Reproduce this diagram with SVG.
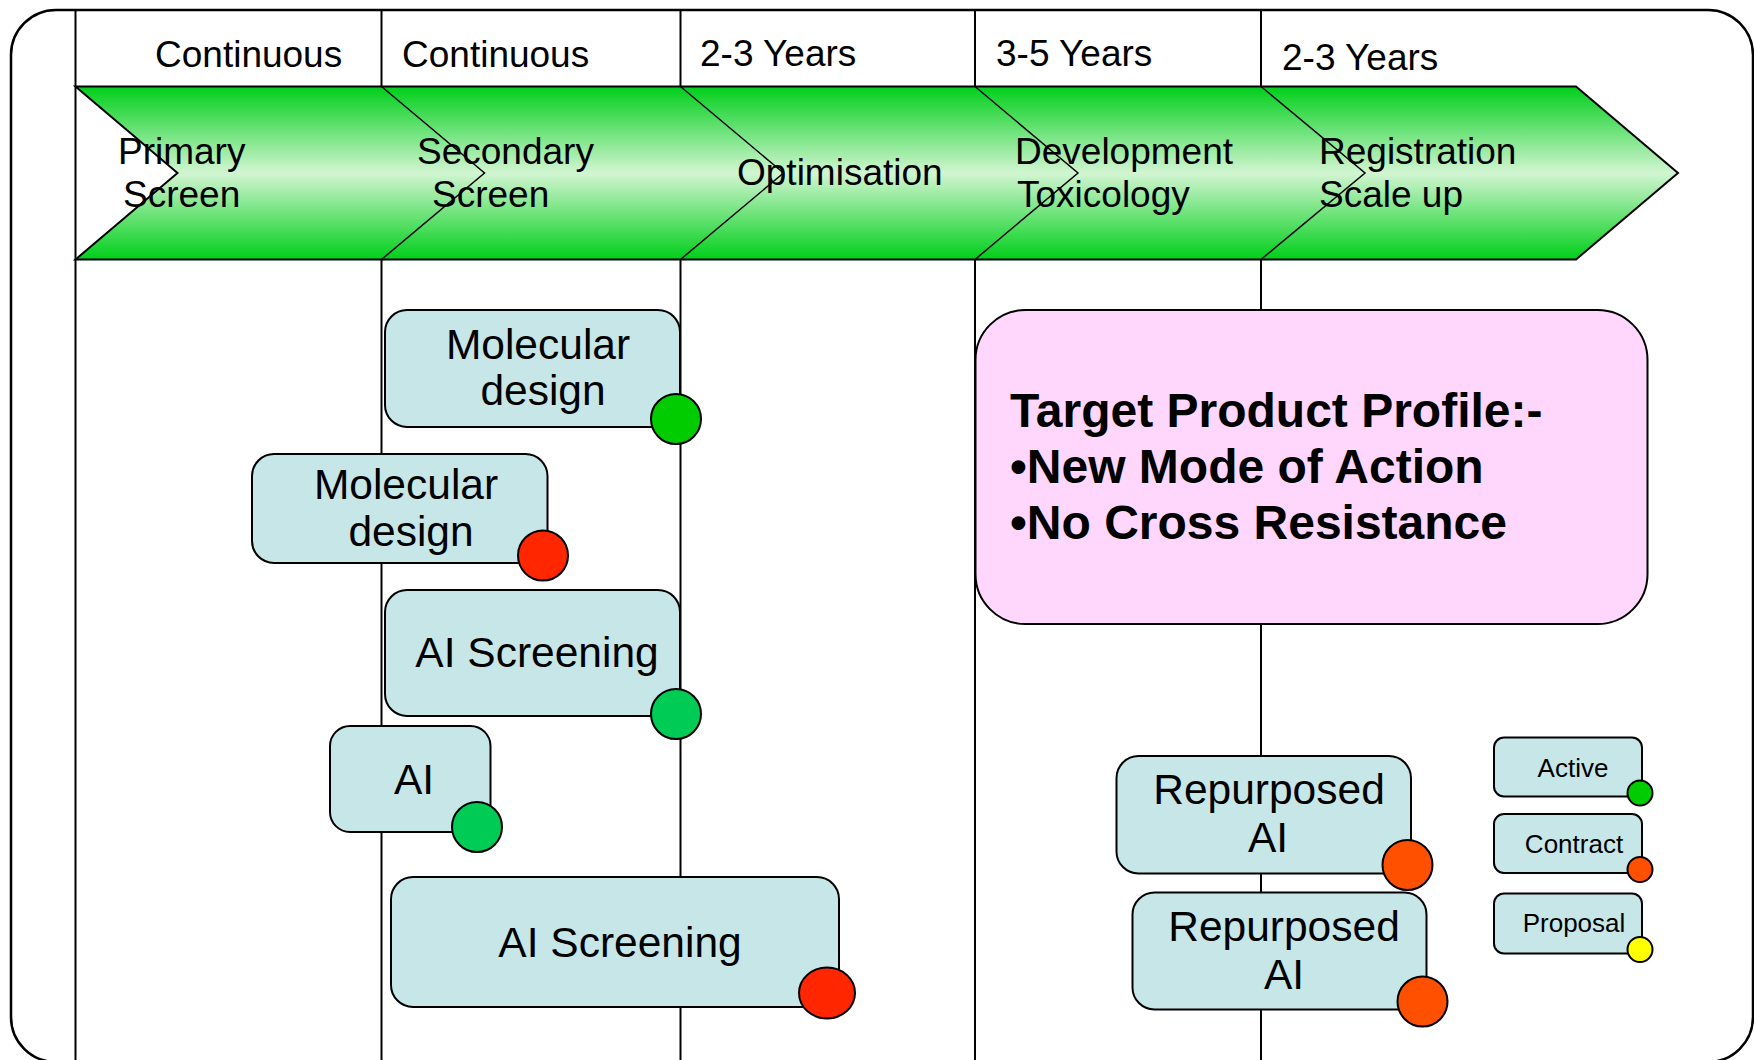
<svg xmlns="http://www.w3.org/2000/svg" width="1754" height="1060" viewBox="0 0 1754 1060">
<defs>
<linearGradient id="band" x1="0" y1="0" x2="0" y2="1">
<stop offset="0" stop-color="#00CF1A"/>
<stop offset="0.5" stop-color="#D2F5D2"/>
<stop offset="1" stop-color="#00CF1A"/>
</linearGradient>
</defs>
<style>
text{font-family:"Liberation Sans",Arial,sans-serif;fill:#000}
.hd{font-size:37px}
.bx{fill:#C6E6E8;stroke:#000;stroke-width:2}
.bt{font-size:42.5px;text-anchor:middle}
.lt{font-size:26px;text-anchor:middle}
.tp{font-size:48px;font-weight:bold}
.dot{stroke:#000;stroke-width:2}
.grid{stroke:#000;stroke-width:2;fill:none}
.chev{stroke:#000;stroke-width:1.5;fill:none}
</style>
<rect x="11" y="10" width="1742" height="1052" rx="45" ry="45" fill="#fff" stroke="#000" stroke-width="2.5"/>
<g id="grid" class="grid">
<line x1="75.5" y1="10" x2="75.5" y2="1060"/>
<line x1="381.5" y1="10" x2="381.5" y2="1060"/>
<line x1="680.5" y1="10" x2="680.5" y2="1060"/>
<line x1="975" y1="10" x2="975" y2="1060"/>
<line x1="1261" y1="10" x2="1261" y2="1060"/>
</g>
<g id="headers">
<text class="hd" x="155" y="67">Continuous</text>
<text class="hd" x="402" y="67">Continuous</text>
<text class="hd" x="700" y="66">2-3 Years</text>
<text class="hd" x="996" y="66">3-5 Years</text>
<text class="hd" x="1282" y="70">2-3 Years</text>
</g>
<g id="band-arrow">
<polygon points="75.5,86.5 1576,86.5 1678,173 1576,259.5 75.5,259.5 177.5,173" fill="url(#band)" stroke="#000" stroke-width="2"/>
<polyline class="chev" points="381.5,86.5 484.5,173 381.5,259.5"/>
<polyline class="chev" points="680.5,86.5 783.5,173 680.5,259.5"/>
<polyline class="chev" points="975,86.5 1078,173 975,259.5"/>
<polyline class="chev" points="1261,86.5 1365,173 1261,259.5"/>
<text class="hd" x="118" y="164">Primary</text>
<text class="hd" x="123" y="207">Screen</text>
<text class="hd" x="417" y="164">Secondary</text>
<text class="hd" x="432" y="207">Screen</text>
<text class="hd" x="737" y="185">Optimisation</text>
<text class="hd" x="1015" y="164">Development</text>
<text class="hd" x="1017" y="207">Toxicology</text>
<text class="hd" x="1319" y="164">Registration</text>
<text class="hd" x="1319" y="207">Scale up</text>
</g>
<g id="molecular-design-1">
<rect class="bx" x="385" y="310" width="295" height="117" rx="22"/>
<text class="bt" x="538" y="359">Molecular</text>
<text class="bt" x="543" y="405">design</text>
<circle class="dot" cx="676" cy="419" r="25" fill="#00CC00"/>
</g>
<g id="molecular-design-2">
<rect class="bx" x="252" y="454" width="295.5" height="109" rx="22"/>
<text class="bt" x="406" y="499">Molecular</text>
<text class="bt" x="411" y="546">design</text>
<circle class="dot" cx="543" cy="555.5" r="25" fill="#FF2600"/>
</g>
<g id="ai-screening-1">
<rect class="bx" x="385" y="590" width="295" height="126" rx="22"/>
<text class="bt" x="537" y="667">AI Screening</text>
<circle class="dot" cx="676" cy="714" r="25" fill="#00CC55"/>
</g>
<g id="ai">
<rect class="bx" x="330" y="726" width="160.5" height="106" rx="20"/>
<text class="bt" x="414" y="794">AI</text>
<circle class="dot" cx="477" cy="827" r="25" fill="#00CC55"/>
</g>
<g id="ai-screening-2">
<rect class="bx" x="391" y="877" width="448" height="130" rx="22"/>
<text class="bt" x="620" y="957">AI Screening</text>
<ellipse class="dot" cx="827" cy="993" rx="28" ry="25.5" fill="#FF2600"/>
</g>
<g id="target-product-profile">
<rect x="975.5" y="310" width="672" height="314" rx="50" fill="#FFD7FD" stroke="#000" stroke-width="2"/>
<text class="tp" x="1010" y="427">Target Product Profile:-</text>
<text class="tp" x="1010" y="483">•New Mode of Action</text>
<text class="tp" x="1010" y="539">•No Cross Resistance</text>
</g>
<g id="repurposed-ai-1">
<rect class="bx" x="1116.5" y="756" width="294.5" height="117.5" rx="22"/>
<text class="bt" x="1269" y="804">Repurposed</text>
<text class="bt" x="1268" y="852">AI</text>
<circle class="dot" cx="1407.5" cy="865" r="25" fill="#FF5000"/>
</g>
<g id="repurposed-ai-2">
<rect class="bx" x="1132.5" y="892.5" width="294" height="117" rx="22"/>
<text class="bt" x="1284" y="941">Repurposed</text>
<text class="bt" x="1284" y="989">AI</text>
<circle class="dot" cx="1422.5" cy="1001.5" r="25" fill="#FF5000"/>
</g>
<g id="legend-active">
<rect class="bx" x="1494" y="737.5" width="148" height="59" rx="10"/>
<text class="lt" x="1573" y="777">Active</text>
<circle class="dot" cx="1640" cy="793" r="12.5" fill="#00CC00"/>
</g>
<g id="legend-contract">
<rect class="bx" x="1494" y="814" width="148" height="59" rx="10"/>
<text class="lt" x="1574" y="853">Contract</text>
<circle class="dot" cx="1640" cy="869.5" r="12.5" fill="#FF5000"/>
</g>
<g id="legend-proposal">
<rect class="bx" x="1494" y="893.5" width="148" height="60" rx="10"/>
<text class="lt" x="1574" y="932">Proposal</text>
<circle class="dot" cx="1640" cy="949.5" r="12.5" fill="#FFFF00"/>
</g>
</svg>
